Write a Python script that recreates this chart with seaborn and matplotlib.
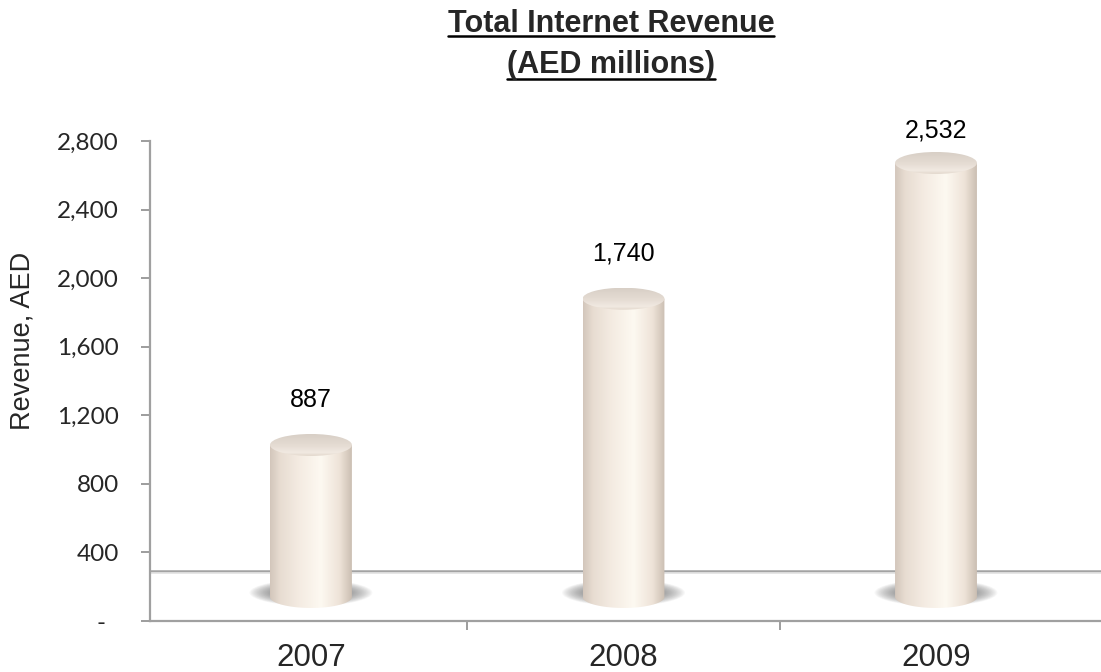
import numpy as np
import pandas as pd
import matplotlib
matplotlib.use("Agg")
import matplotlib.pyplot as plt
import seaborn as sns
from matplotlib.colors import LinearSegmentedColormap
from matplotlib.patches import Ellipse, PathPatch
from matplotlib.path import Path
from matplotlib.lines import Line2D

# ---- data -------------------------------------------------------------
years = ["2007", "2008", "2009"]
revenue = [887, 1740, 2532]
y_ticks = [0, 400, 800, 1200, 1600, 2000, 2400, 2800]
title_lines = ["Total Internet Revenue", "(AED millions)"]
y_label = "Revenue, AED"

# ---- style ------------------------------------------------------------
sns.set_style("white")
plt.rcParams["font.family"] = ["Liberation Sans", "DejaVu Sans"]

W, H = 1101, 672
fig = plt.figure(figsize=(W / 100, H / 100), dpi=100)
ax = fig.add_axes([150 / W, 1 - 621 / H, 1 - 150 / W, (621 - 141) / H])

df = pd.DataFrame({"year": years, "revenue": revenue})
bar_w = 0.262
sns.barplot(data=df, x="year", y="revenue", width=bar_w, color="#efe4da",
            ax=ax, zorder=3, errorbar=None)

# depth of the 3-D floor, in data units
floor_mid = 140      # the cylinders stand half way into the floor
floor_back = 292     # back edge of the floor
cap_h = 64           # half height of the elliptical cap

body_cmap = LinearSegmentedColormap.from_list(
    "body", [(0.0, "#d3c6bb"), (0.12, "#e7dcd1"), (0.35, "#f4ebe2"),
             (0.62, "#fdf9f1"), (0.85, "#eee3d8"), (1.0, "#cbbeb2")])
cap_cmap = LinearSegmentedColormap.from_list(
    "cap", [(0.0, "#d8cfc6"), (0.55, "#e6ddd4"), (0.85, "#f1eae2"), (1.0, "#e2d7cc")])
grad_x = np.linspace(0, 1, 256)[None, :]
grad_y = np.linspace(0, 1, 64)[:, None]

for patch, val in zip(list(ax.patches), revenue):
    x0 = patch.get_x()
    w = patch.get_width()
    cx = x0 + w / 2
    patch.set_y(floor_mid)
    patch.set_visible(False)
    top = floor_mid + val

    # soft shadow on the floor
    for k in range(16):
        f = 1 - k / 16
        ax.add_patch(Ellipse((cx, floor_mid + 25), width=w * (1.0 + 0.5 * f),
                             height=cap_h * (1.3 + 1.1 * f), facecolor="#777777",
                             edgecolor="none", alpha=0.055, zorder=2))

    # cylinder body: rectangle with rounded (elliptical) bottom
    t = np.linspace(np.pi, 2 * np.pi, 60)
    verts = [(x0, top), (x0, floor_mid)]
    verts += [(cx + w / 2 * np.cos(a), floor_mid + cap_h * np.sin(a)) for a in t]
    verts += [(x0 + w, top), (x0, top)]
    codes = [Path.MOVETO] + [Path.LINETO] * (len(verts) - 2) + [Path.CLOSEPOLY]
    body = PathPatch(Path(verts, codes), facecolor="none", edgecolor="none",
                     transform=ax.transData, zorder=3)
    ax.add_patch(body)
    im = ax.imshow(grad_x, cmap=body_cmap, aspect="auto", zorder=3,
                   extent=(x0, x0 + w, floor_mid - cap_h, top), origin="lower")
    im.set_clip_path(body)

    # elliptical cap
    cap = Ellipse((cx, top), width=w, height=2 * cap_h, facecolor="none",
                  edgecolor="none", zorder=4)
    ax.add_patch(cap)
    im2 = ax.imshow(grad_y[::-1], cmap=cap_cmap, aspect="auto", zorder=4,
                    extent=(x0, x0 + w, top - cap_h, top + cap_h), origin="lower")
    im2.set_clip_path(cap)

    # value label
    ax.text(cx, min(top + 265, 2860), f"{val:,}", ha="center", va="center",
            fontsize=18, color="black", zorder=6, clip_on=False)

# floor back edge
ax.axhline(floor_back, color="#a3a3a3", lw=1.8, zorder=1)
ax.axhline(floor_back - 10, color="#e2e2e2", lw=1.2, zorder=1)

ax.set_xlim(-0.515, 2.528)
ax.set_ylim(0, 2800)

# axes styling
for side in ["top", "right"]:
    ax.spines[side].set_visible(False)
for side in ["left", "bottom"]:
    ax.spines[side].set_color("#a0a0a0")
    ax.spines[side].set_linewidth(1.6)
    ax.spines[side].set_zorder(1)

ax.set_yticks(y_ticks)
ax.set_yticklabels([f"{v:,}" if v else "-  " for v in y_ticks],
                   fontsize=17.5, family=["Lato", "DejaVu Sans"])
ax.tick_params(axis="y", direction="out", length=6.5, width=1.2,
               color="#8c8c8c", pad=16, left=True)
ax.set_xticks(range(len(years)))
ax.set_xticklabels(years, fontsize=22.5)
ax.tick_params(axis="x", which="major", length=0, pad=16, bottom=True)
ax.set_xticks([0.5, 1.5], minor=True)
ax.tick_params(axis="x", which="minor", direction="out", length=6.5, width=1.2,
               color="#8c8c8c", bottom=True)
ax.set_xlabel("")
ax.set_ylabel("")
ax.grid(False)
ax.set_facecolor("none")

fig.text(23 / W, 1 - 341 / H, y_label, rotation=90, ha="center", va="center",
         fontsize=19.5)

# underlined two-line title
t1 = fig.text(611 / W, 1 - 32 / H, title_lines[0], ha="center", va="baseline",
              fontsize=22, fontweight="bold")
t2 = fig.text(611 / W, 1 - 73 / H, title_lines[1], ha="center", va="baseline",
              fontsize=22, fontweight="bold")
fig.canvas.draw()
r = fig.canvas.get_renderer()
for txt, uy in [(t1, 36), (t2, 79)]:
    bb = txt.get_window_extent(r)
    fig.add_artist(Line2D([bb.x0 / W, bb.x1 / W], [1 - uy / H, 1 - uy / H],
                          transform=fig.transFigure, color="black", lw=1.8))

fig.savefig("out.png", dpi=100, facecolor="white")
